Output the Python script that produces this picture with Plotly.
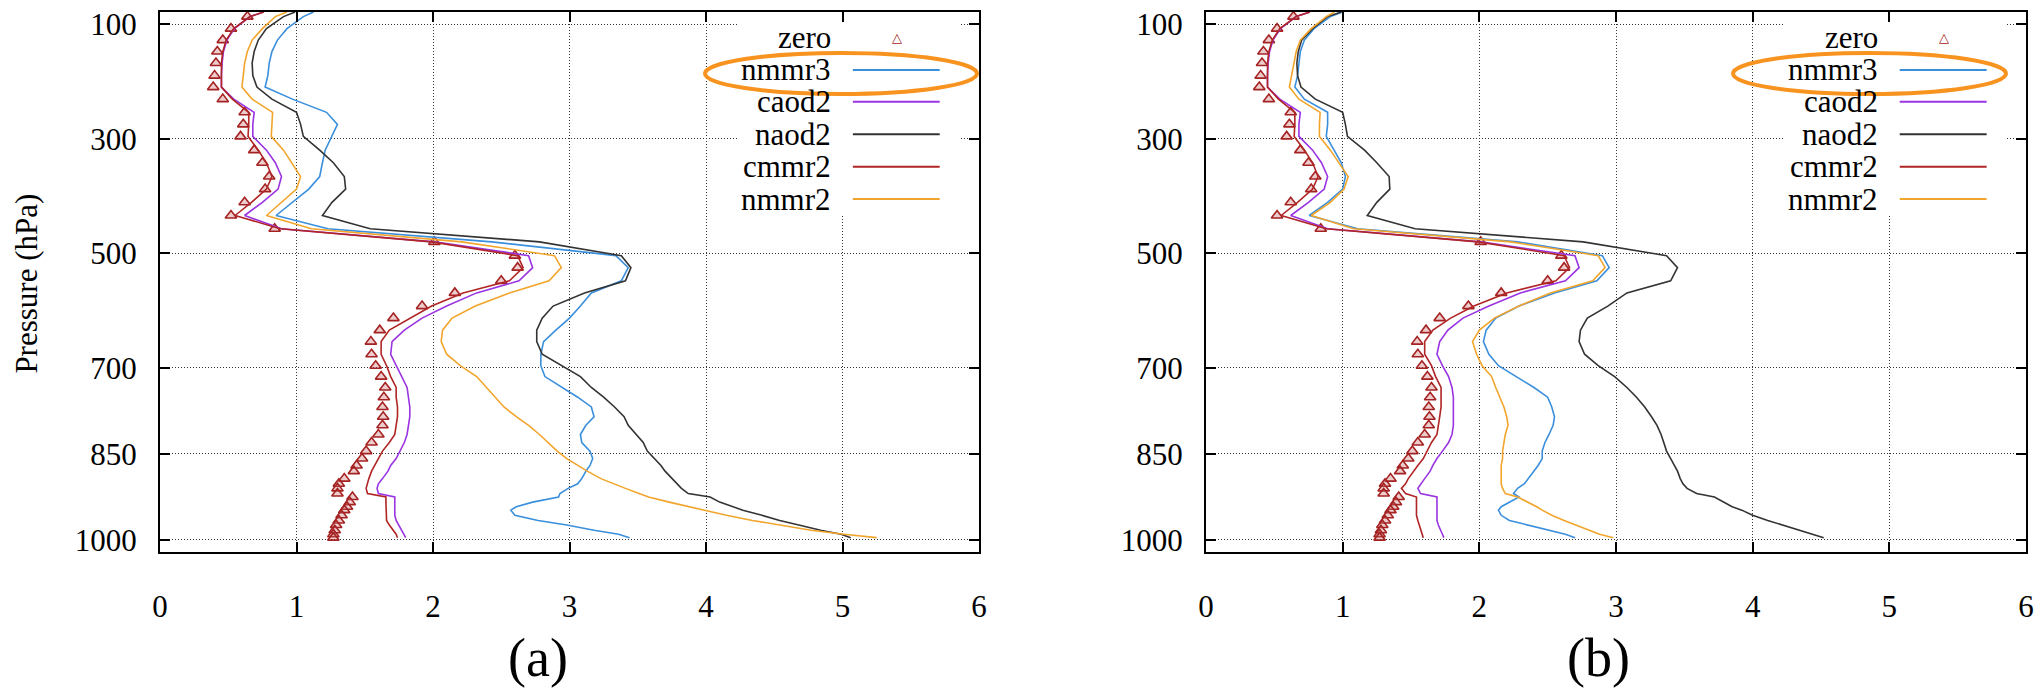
import plotly.graph_objects as go

# ---------------- data ----------------
P = [79, 87, 108, 128, 148, 168, 190, 210, 231, 254,
     275, 296, 320, 342, 366, 388, 411, 434, 457, 480,
     504, 525, 548, 569, 592, 613, 634, 654, 676, 696,
     715, 734, 751, 768, 785, 800, 816, 830, 845, 858,
     870, 880, 893, 902, 910, 919, 925, 934, 942, 948,
     957, 966, 974, 983, 990, 996]
P_ZERO = P[1:]

zero = [0.64, 0.52, 0.46, 0.42, 0.41, 0.40, 0.39, 0.46, 0.62,
        0.61, 0.59, 0.69, 0.75, 0.80, 0.77, 0.62, 0.52, 0.84, 2.01,
        2.60, 2.62, 2.50, 2.16, 1.92, 1.71, 1.61, 1.545, 1.55, 1.58,
        1.62, 1.65, 1.64, 1.63, 1.635, 1.63, 1.60, 1.55, 1.51, 1.48,
        1.44, 1.42, 1.35, 1.31, 1.30, 1.30, 1.41, 1.39, 1.37, 1.35,
        1.33, 1.31, 1.29, 1.28, 1.27, 1.27]

a_nmmr3 = [1.125, 1.05, 0.93, 0.86, 0.82, 0.80, 0.79, 0.77, 0.97, 1.22,
           1.30, 1.26, 1.21, 1.19, 1.17, 1.09, 0.97, 0.85, 1.23, 2.43,
           3.34, 3.43, 3.38, 3.16, 3.08, 3.00, 2.90, 2.81, 2.79, 2.79,
           2.82, 2.95, 3.06, 3.16, 3.18, 3.12, 3.08, 3.09, 3.15, 3.17,
           3.15, 3.12, 3.09, 3.06, 2.99, 2.93, 2.92, 2.73, 2.61, 2.57,
           2.60, 2.77, 2.98, 3.18, 3.36, 3.44]
a_caod2 = [0.76, 0.66, 0.545, 0.49, 0.465, 0.455, 0.45, 0.45, 0.54, 0.69,
           0.68, 0.68, 0.78, 0.845, 0.89, 0.865, 0.75, 0.62, 0.89, 2.01,
           2.70, 2.73, 2.63, 2.32, 2.10, 1.92, 1.79, 1.70, 1.69, 1.73,
           1.77, 1.81, 1.82, 1.83, 1.83, 1.82, 1.81, 1.79, 1.76, 1.73,
           1.69, 1.67, 1.63, 1.60, 1.59, 1.60, 1.72, 1.72, 1.72, 1.72,
           1.72, 1.73, 1.75, 1.77, 1.79, 1.80]
a_naod2 = [0.99, 0.905, 0.78, 0.72, 0.69, 0.675, 0.68, 0.71, 0.82, 1.00,
           1.03, 1.05, 1.17, 1.27, 1.35, 1.36, 1.26, 1.19, 1.54, 2.78,
           3.38, 3.45, 3.41, 3.11, 2.88, 2.80, 2.76, 2.76, 2.80, 2.94,
           3.08, 3.16, 3.25, 3.33, 3.40, 3.43, 3.49, 3.54, 3.57, 3.62,
           3.67, 3.70, 3.75, 3.79, 3.82, 3.87, 4.03, 4.10, 4.20, 4.27,
           4.41, 4.54, 4.68, 4.84, 4.99, 5.06]
a_cmmr2 = [0.76, 0.66, 0.54, 0.485, 0.46, 0.45, 0.45, 0.45, 0.53, 0.65,
           0.65, 0.645, 0.72, 0.78, 0.82, 0.78, 0.67, 0.55, 0.88, 1.99,
           2.62, 2.66, 2.56, 2.22, 1.99, 1.83, 1.68, 1.62, 1.62, 1.66,
           1.69, 1.73, 1.73, 1.74, 1.74, 1.73, 1.72, 1.68, 1.63, 1.60,
           1.57, 1.55, 1.53, 1.52, 1.51, 1.52, 1.655, 1.655, 1.655, 1.655,
           1.655, 1.66, 1.68, 1.71, 1.73, 1.74]
a_nmmr2 = [0.93, 0.845, 0.75, 0.675, 0.64, 0.62, 0.61, 0.60, 0.675, 0.825,
           0.82, 0.815, 0.905, 0.965, 1.03, 1.00, 0.89, 0.78, 1.11, 2.21,
           2.89, 2.94, 2.85, 2.56, 2.31, 2.14, 2.07, 2.06, 2.10, 2.20,
           2.32, 2.39, 2.45, 2.52, 2.61, 2.70, 2.78, 2.84, 2.91, 2.98,
           3.06, 3.13, 3.23, 3.32, 3.41, 3.51, 3.58, 3.73, 3.87, 3.98,
           4.15, 4.34, 4.53, 4.77, 5.01, 5.25]

b_nmmr3 = [1.00, 0.91, 0.79, 0.72, 0.69, 0.68, 0.67, 0.65, 0.72, 0.89,
           0.89, 0.88, 0.94, 0.99, 1.02, 1.00, 0.89, 0.755, 1.11, 2.28,
           2.90, 2.95, 2.86, 2.55, 2.29, 2.12, 2.05, 2.03, 2.07, 2.14,
           2.27, 2.40, 2.50, 2.53, 2.55, 2.54, 2.51, 2.48, 2.46, 2.46,
           2.43, 2.40, 2.36, 2.33, 2.28, 2.25, 2.29, 2.22, 2.16, 2.14,
           2.16, 2.22, 2.35, 2.51, 2.63, 2.70]
b_caod2 = [0.76, 0.66, 0.545, 0.49, 0.465, 0.455, 0.45, 0.45, 0.54, 0.69,
           0.68, 0.68, 0.78, 0.845, 0.89, 0.865, 0.75, 0.62, 0.89, 2.01,
           2.70, 2.73, 2.63, 2.30, 2.07, 1.88, 1.77, 1.71, 1.69, 1.73,
           1.775, 1.80, 1.81, 1.81, 1.81, 1.81, 1.80, 1.775, 1.73, 1.69,
           1.66, 1.64, 1.60, 1.57, 1.55, 1.57, 1.69, 1.69, 1.69, 1.69,
           1.69, 1.69, 1.70, 1.72, 1.73, 1.74]
b_naod2 = [0.99, 0.89, 0.78, 0.70, 0.675, 0.665, 0.67, 0.695, 0.80, 1.00,
           1.02, 1.035, 1.16, 1.25, 1.34, 1.345, 1.25, 1.18, 1.53, 2.76,
           3.37, 3.45, 3.40, 3.08, 2.94, 2.79, 2.74, 2.73, 2.77, 2.87,
           2.99, 3.08, 3.15, 3.21, 3.26, 3.30, 3.33, 3.35, 3.37, 3.40,
           3.43, 3.45, 3.47, 3.49, 3.52, 3.59, 3.72, 3.79, 3.85, 3.92,
           4.00, 4.11, 4.22, 4.34, 4.45, 4.52]
b_cmmr2 = [0.76, 0.66, 0.54, 0.485, 0.46, 0.45, 0.45, 0.45, 0.53, 0.65,
           0.65, 0.645, 0.72, 0.78, 0.82, 0.78, 0.67, 0.55, 0.88, 1.99,
           2.62, 2.66, 2.56, 2.20, 1.96, 1.79, 1.66, 1.60, 1.60, 1.65,
           1.68, 1.72, 1.72, 1.72, 1.71, 1.70, 1.69, 1.65, 1.62, 1.59,
           1.55, 1.52, 1.48, 1.46, 1.43, 1.46, 1.54, 1.54, 1.54, 1.54,
           1.54, 1.55, 1.56, 1.57, 1.58, 1.59]
b_nmmr2 = [0.94, 0.88, 0.77, 0.69, 0.66, 0.645, 0.63, 0.61, 0.68, 0.835,
           0.83, 0.83, 0.91, 0.97, 1.04, 1.01, 0.91, 0.77, 1.08, 2.23,
           2.87, 2.92, 2.83, 2.52, 2.29, 2.11, 2.00, 1.95, 1.98, 2.02,
           2.09, 2.12, 2.15, 2.18, 2.20, 2.21, 2.19, 2.18, 2.17, 2.17,
           2.16, 2.16, 2.16, 2.16, 2.17, 2.19, 2.28, 2.36, 2.42, 2.46,
           2.53, 2.62, 2.71, 2.80, 2.88, 2.98]

SERIES = ["nmmr3", "caod2", "naod2", "cmmr2", "nmmr2"]
COLORS = {"zero": "#a52222", "nmmr3": "#3a8fdc", "caod2": "#9a34e2",
          "naod2": "#333333", "cmmr2": "#b02525", "nmmr2": "#f2a52c"}
PANEL_A = {"nmmr3": a_nmmr3, "caod2": a_caod2, "naod2": a_naod2,
           "cmmr2": a_cmmr2, "nmmr2": a_nmmr2}
PANEL_B = {"nmmr3": b_nmmr3, "caod2": b_caod2, "naod2": b_naod2,
           "cmmr2": b_cmmr2, "nmmr2": b_nmmr2}

X_TICKS = [0, 1, 2, 3, 4, 5, 6]
Y_TICKS = [100, 300, 500, 700, 850, 1000]
PANEL_LABELS = ["(a)", "(b)"]

FONT = "Liberation Serif"
W, H = 2044, 692

fig = go.Figure()

for k, (data, xa, ya) in enumerate([(PANEL_A, "x", "y"), (PANEL_B, "x2", "y2")]):
    fig.add_trace(go.Scatter(
        x=zero, y=P_ZERO, mode="markers", name="zero", xaxis=xa, yaxis=ya,
        marker=dict(symbol="triangle-up", size=10, color="rgba(200,110,110,0.35)",
                    line=dict(width=1.6, color=COLORS["zero"])),
        showlegend=False))
    for s in SERIES:
        fig.add_trace(go.Scatter(
            x=data[s], y=P, mode="lines", name=s, xaxis=xa, yaxis=ya,
            line=dict(color=COLORS[s], width=1.6), showlegend=False))

axis_common = dict(
    showline=True, linecolor="black", linewidth=2, mirror="allticks",
    ticks="inside", ticklen=10, tickwidth=1.5, tickcolor="black",
    showgrid=True, gridcolor="#333333", gridwidth=1, griddash="1px,2px",
    zeroline=False, automargin=False,
    tickfont=dict(family=FONT, size=31, color="black"),
)

fig.update_layout(
    template="none",
    font=dict(family=FONT, size=31, color="black"),
    width=W, height=H,
    margin=dict(l=0, r=0, t=12, b=140, autoexpand=False),
    paper_bgcolor="white", plot_bgcolor="white",
    showlegend=False,
    xaxis=dict(domain=[160 / W, 979 / W], range=[0, 6], tickvals=X_TICKS,
               anchor="y", ticklabelstandoff=26, **axis_common),
    yaxis=dict(domain=[0, 1], range=[1021, 79], tickvals=Y_TICKS,
               anchor="x", ticklabelstandoff=15, **axis_common),
    xaxis2=dict(domain=[1206 / W, 2026 / W], range=[0, 6], tickvals=X_TICKS,
                anchor="y2", ticklabelstandoff=26, **axis_common),
    yaxis2=dict(domain=[0, 1], range=[1021, 79], tickvals=Y_TICKS,
                anchor="x2", ticklabelstandoff=15, **axis_common),
)

shapes = []
annotations = []
ROW_Y = [0.9528, 0.8926, 0.8339, 0.7735, 0.7135, 0.6537]
LEG_NAMES = ["zero"] + SERIES
ELLIPSE_PX = [(705, 977), (1733, 2006)]

for k, (xr, yr) in enumerate([("x", "y"), ("x2", "y2")]):
    xd, yd = xr + " domain", yr + " domain"
    # opaque legend box (hides the grid under the key)
    shapes.append(dict(type="rect", xref=xd, yref=yd, x0=0.7045, x1=0.9768,
                       y0=0.624, y1=0.9796, fillcolor="white",
                       line=dict(width=0)))
    for name, ry in zip(LEG_NAMES, ROW_Y):
        annotations.append(dict(xref=xd, yref=yd, x=0.8217, y=ry, text=name,
                                showarrow=False, xanchor="right", yanchor="middle",
                                font=dict(family=FONT, size=31, color="black")))
        if name == "zero":
            annotations.append(dict(xref=xd, yref=yd, x=0.90, y=ry, text="△",
                                    showarrow=False, xanchor="center", yanchor="middle",
                                    font=dict(family="DejaVu Sans", size=13,
                                              color=COLORS["zero"])))
        else:
            shapes.append(dict(type="line", xref=xd, yref=yd, x0=0.846, x1=0.952,
                               y0=ry, y1=ry, line=dict(color=COLORS[name], width=2)))
    ex0, ex1 = ELLIPSE_PX[k]
    shapes.append(dict(type="circle", xref="paper", yref="paper",
                       x0=ex0 / W, x1=ex1 / W, y0=0.848, y1=0.924,
                       line=dict(color="#f7931e", width=4)))

annotations.append(dict(xref="paper", yref="paper", x=27 / W, y=0.497,
                        text="Pressure (hPa)", textangle=-90, showarrow=False,
                        xanchor="center", yanchor="middle",
                        font=dict(family=FONT, size=31, color="black")))
for lab, px in zip(PANEL_LABELS, [538, 1598]):
    annotations.append(dict(xref="paper", yref="paper", x=px / W, y=(552 - 690) / 540,
                            text=lab, showarrow=False, xanchor="center",
                            yanchor="bottom",
                            font=dict(family=FONT, size=54, color="black")))

fig.update_layout(shapes=shapes, annotations=annotations)
fig.write_html("out.html",
               config={"displayModeBar": False},
               post_script="document.body.style.margin='0';"
                           "document.body.style.overflow='hidden';")
